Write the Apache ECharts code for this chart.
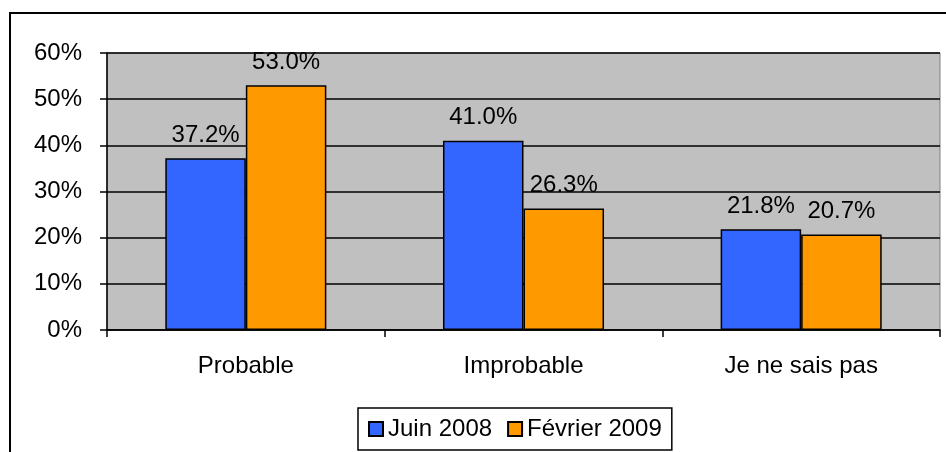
<!DOCTYPE html>
<html>
<head>
<meta charset="utf-8">
<style>
  html, body { margin: 0; padding: 0; background: #fff; }
  #chart { width: 946px; height: 452px; }
</style>
<script src="https://cdn.jsdelivr.net/npm/echarts@6/dist/echarts.min.js"></script>
</head>
<body>
<div id="chart"></div>
<script>
// Survey answers, June 2008 vs February 2009 (percent)
const categories = ['Probable', 'Improbable', 'Je ne sais pas'];
const juin2008 = [37.2, 41.0, 21.8];
const fevrier2009 = [53.0, 26.3, 20.7];
const seriesNames = ['Juin 2008', 'Février 2009'];

const FONT = '"Liberation Sans", Arial, sans-serif';
const chart = echarts.init(document.getElementById('chart'));

const labelStyle = {
  show: true,
  position: 'top',
  distance: 11,
  color: '#000',
  fontSize: 24,
  fontFamily: FONT,
  formatter: p => p.value.toFixed(1) + '%'
};

chart.setOption({
  animation: false,
  backgroundColor: '#fff',
  textStyle: { fontFamily: FONT },
  graphic: [{
    type: 'rect',
    shape: { x: 10, y: 13, width: 960, height: 460 },
    style: { fill: 'none', stroke: '#000', lineWidth: 2 },
    z: 100
  }],
  grid: {
    left: 107, right: 6, top: 53, bottom: 122,
    show: true,
    backgroundColor: '#C0C0C0',
    borderColor: '#808080',
    borderWidth: 1
  },
  legend: {
    bottom: 2,
    left: 358,
    data: seriesNames,
    itemWidth: 14,
    itemHeight: 14,
    itemGap: 15,
    padding: [9, 10, 9, 10],
    borderColor: '#000',
    borderWidth: 1.5,
    textStyle: { fontSize: 24, color: '#000', fontFamily: FONT },
    icon: 'rect'
  },
  xAxis: {
    type: 'category',
    data: categories,
    axisLine: { show: true, lineStyle: { color: '#000', width: 1.5 } },
    axisTick: { show: true, length: 7, lineStyle: { color: '#000', width: 1.5 } },
    axisLabel: { color: '#000', fontSize: 24, fontFamily: FONT, margin: 24 }
  },
  yAxis: {
    type: 'value',
    min: 0, max: 60, interval: 10,
    axisLine: { show: true, lineStyle: { color: '#000', width: 1.5 } },
    axisTick: { show: true, length: 7, lineStyle: { color: '#000', width: 1.5 } },
    splitLine: { show: true, lineStyle: { color: '#000', width: 1.5 } },
    axisLabel: { color: '#000', fontSize: 24, fontFamily: FONT, margin: 25, formatter: '{value}%' }
  },
  series: [
    {
      name: seriesNames[0],
      type: 'bar',
      data: juin2008,
      barGap: '0%',
      barCategoryGap: '42%',
      itemStyle: { color: '#3366FF', borderColor: '#000', borderWidth: 1.5 },
      label: labelStyle
    },
    {
      name: seriesNames[1],
      type: 'bar',
      data: fevrier2009,
      itemStyle: { color: '#FF9900', borderColor: '#000', borderWidth: 1.5 },
      label: labelStyle
    }
  ]
});
</script>
</body>
</html>
